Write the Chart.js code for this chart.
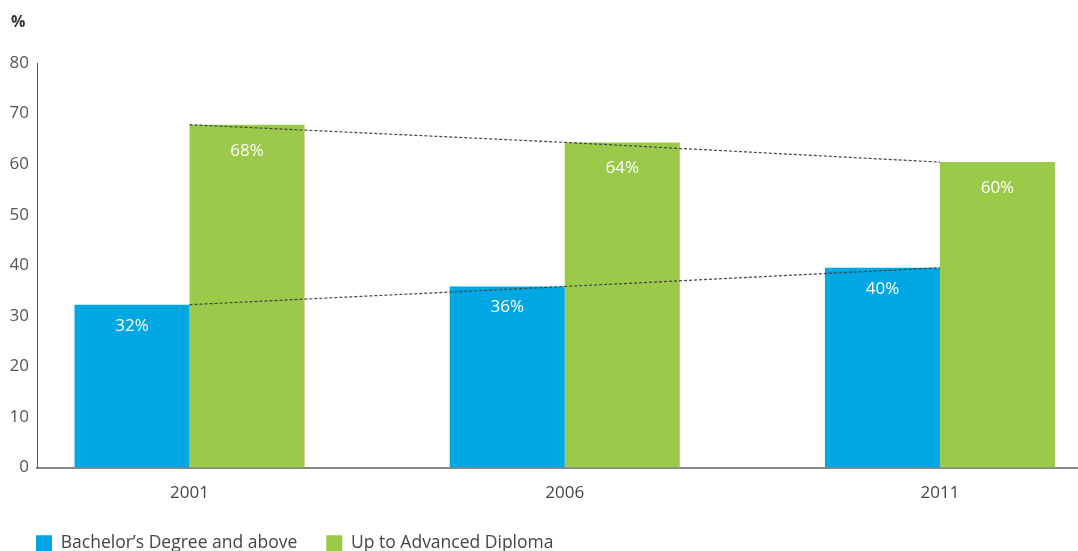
<!DOCTYPE html>
<html>
<head>
<meta charset="utf-8">
<script src="https://cdn.jsdelivr.net/npm/chart.js@4"></script>
<style>
  html, body { margin: 0; padding: 0; background: #fff; overflow: hidden; }
  #wrap { width: 1078px; height: 562px; position: relative; }
</style>
</head>
<body>
<div id="wrap"><canvas id="chart"></canvas></div>
<script>
const years = [2001, 2006, 2011]
const bachelor = [32.2, 35.8, 39.5]
const diploma = [67.8, 64.3, 60.4]
const yTicks = [0, 10, 20, 30, 40, 50, 60, 70, 80]

const BLUE = "#00a8e3"
const GREEN = "#9bc94a"
const FONT = "'Open Sans', 'Noto Sans', sans-serif"

const pts = arr => years.map((y, i) => ({ x: y, y: arr[i] }))

// white % labels inside the bars, and the "%" unit at top left
const barLabels = {
  id: "barLabels",
  afterDatasetsDraw(chart) {
    const ctx = chart.ctx
    ctx.save()
    ctx.fillStyle = "#fff"
    ctx.font = "17px " + FONT
    ctx.textAlign = "center"
    ctx.textBaseline = "middle"
    chart.data.datasets.forEach((ds, di) => {
      if (ds.type !== "bar") return
      chart.getDatasetMeta(di).data.forEach((el, i) => {
        ctx.fillText(Math.round(ds.data[i].y) + "%", el.x, el.y + ds.labelOffset)
      })
    })
    ctx.fillStyle = "#333"
    ctx.font = "bold 16px " + FONT
    ctx.textAlign = "left"
    ctx.fillText("%", 11, 22)
    ctx.restore()
  }
}

new Chart(document.getElementById("chart"), {
  data: {
    datasets: [
      {
        type: "bar",
        label: "Bachelor’s Degree and above",
        data: pts(bachelor),
        backgroundColor: BLUE,
        barPercentage: 1,
        categoryPercentage: 0.613,
        labelOffset: 21,
        order: 2
      },
      {
        type: "bar",
        label: "Up to Advanced Diploma",
        data: pts(diploma),
        backgroundColor: GREEN,
        barPercentage: 1,
        categoryPercentage: 0.613,
        labelOffset: 26,
        order: 2
      },
      {
        type: "line",
        label: "trend1",
        data: pts(bachelor),
        borderColor: "#444",
        borderWidth: 1.2,
        borderDash: [3, 2],
        pointRadius: 0,
        fill: false,
        order: 1
      },
      {
        type: "line",
        label: "trend2",
        data: pts(diploma),
        borderColor: "#444",
        borderWidth: 1.2,
        borderDash: [3, 2],
        pointRadius: 0,
        fill: false,
        order: 1
      }
    ]
  },
  options: {
    responsive: true,
    maintainAspectRatio: false,
    animation: false,
    layout: { padding: { left: 7, right: 0, top: 63, bottom: 0 } },
    plugins: {
      tooltip: { enabled: false },
      legend: {
        position: "bottom",
        align: "start",
        labels: {
          filter: item => item.datasetIndex < 2,
          boxWidth: 16,
          boxHeight: 16,
          color: "#444",
          padding: 29,
          font: { family: FONT, size: 17.5 }
        }
      }
    },
    scales: {
      x: {
        type: "linear",
        offset: false,
        min: 1998.967,
        max: 2012.84,
        afterBuildTicks: scale => { scale.ticks = years.map(v => ({ value: v })) },
        ticks: {
          color: "#444",
          font: { family: FONT, size: 17 },
          padding: 7,
          maxRotation: 0,
          callback: v => String(v)
        },
        grid: { display: false },
        border: { display: true, color: "#888", width: 2 },
        afterFit: scale => { scale.height = 38 }
      },
      y: {
        min: 0,
        max: 80,
        afterBuildTicks: scale => { scale.ticks = yTicks.map(v => ({ value: v })) },
        ticks: {
          color: "#555",
          font: { family: FONT, size: 17 },
          padding: 0
        },
        grid: { display: false },
        border: { display: true, color: "#555", width: 1 },
        afterFit: scale => { scale.width = 30 }
      }
    }
  },
  plugins: [barLabels]
})
</script>
</body>
</html>
